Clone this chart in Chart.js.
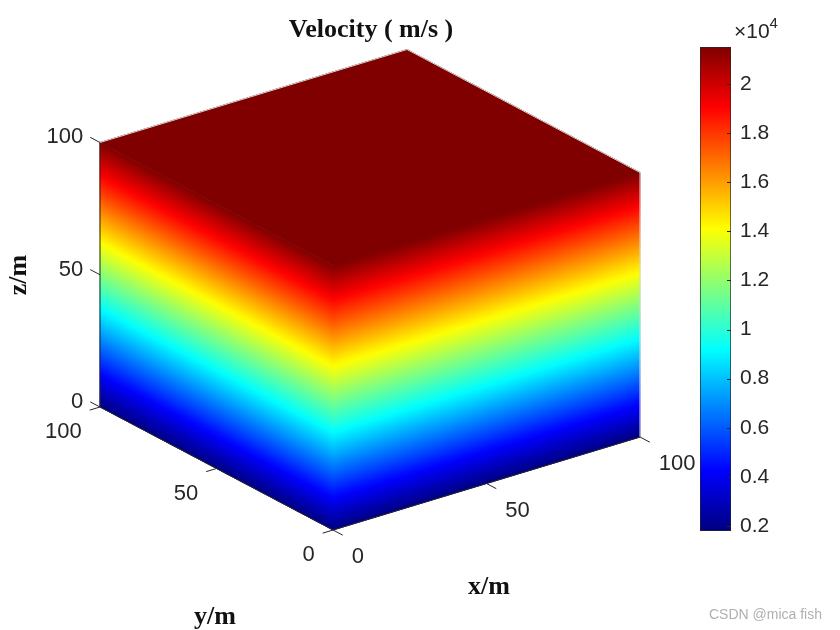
<!DOCTYPE html>
<html>
<head>
<meta charset="utf-8">
<script src="https://cdn.jsdelivr.net/npm/chart.js@4.4.1/dist/chart.umd.min.js"></script>
<style>
  html, body { margin: 0; padding: 0; background: #fff; }
  #wrap { position: relative; width: 840px; height: 630px; }
  #cubeChart { position: absolute; left: 0; top: 0; }
  #barChart { position: absolute; left: 690px; top: 0; }
</style>
</head>
<body>
<div id="wrap">
  <canvas id="cubeChart" width="840" height="630"></canvas>
  <canvas id="barChart" width="150" height="630"></canvas>
</div>
<script>
// axis limits and ticks (m)
const xLim = [0, 100];
const yLim = [0, 100];
const zLim = [0, 100];
const xTicks = [0, 50, 100];
const yTicks = [0, 50, 100];
const zTicks = [0, 50, 100];

// velocity (m/s)
const zLevels = [0, 20, 40, 60, 80, 100];
const velocity = [1850, 5800, 9750, 13700, 17650, 21500];

// colorbar, in units of 1e4 m/s
const colorLimits = [0.18, 2.15];
const colorTicks = [0.2, 0.4, 0.6, 0.8, 1, 1.2, 1.4, 1.6, 1.8, 2];

// 3D view: screen direction of one data unit along x, y and z
const view = {
    origin: [333, 530],
    ex: [3.07, -0.93],
    ey: [-2.33, -1.23],
    ez: [0, -2.645]
};

const TICK_FONT = '22px "Liberation Sans", Arial, sans-serif';
const LABEL_FONT = 'bold 26px "Liberation Serif", "Times New Roman", serif';
const TEXT_COLOR = '#262626';

function project(x, y, z) {
    return {
        x: view.origin[0] + x * view.ex[0] + y * view.ey[0] + z * view.ez[0],
        y: view.origin[1] + x * view.ex[1] + y * view.ey[1] + z * view.ez[1]
    };
}

function toPixel(chart, p) {
    return {
        x: chart.scales.x.getPixelForValue(p.x),
        y: chart.scales.y.getPixelForValue(p.y)
    };
}

// MATLAB jet
const jetStops = [
    [0, [0, 0, 0.5]],
    [0.125, [0, 0, 1]],
    [0.375, [0, 1, 1]],
    [0.625, [1, 1, 0]],
    [0.875, [1, 0, 0]],
    [1, [0.5, 0, 0]]
];

function jet(t) {
    t = Math.max(0, Math.min(1, t));
    for (let i = 1; i < jetStops.length; i++) {
        const [t1, c1] = jetStops[i];
        const [t0, c0] = jetStops[i - 1];
        if (t <= t1) {
            const f = (t - t0) / (t1 - t0);
            const c = c0.map((v, k) => Math.round(255 * (v + (c1[k] - v) * f)));
            return 'rgb(' + c.join(',') + ')';
        }
    }
    return 'rgb(128,0,0)';
}

function velocityAt(z) {
    for (let i = 1; i < zLevels.length; i++) {
        if (z <= zLevels[i]) {
            const f = (z - zLevels[i - 1]) / (zLevels[i] - zLevels[i - 1]);
            return velocity[i - 1] + (velocity[i] - velocity[i - 1]) * f;
        }
    }
    return velocity[velocity.length - 1];
}

function colorForZ(z) {
    const v = velocityAt(z) / 1e4;
    return jet((v - colorLimits[0]) / (colorLimits[1] - colorLimits[0]));
}

// vertical faces: gradient runs across the lines of constant z
function sideGradient(chart, from, to) {
    const ctx = chart.ctx;
    const a = toPixel(chart, project(from[0], from[1], zLim[0]));
    const b = toPixel(chart, project(from[0], from[1], zLim[1]));
    const c = toPixel(chart, project(to[0], to[1], zLim[0]));
    const len = Math.hypot(c.x - a.x, c.y - a.y);
    const n = { x: -(c.y - a.y) / len, y: (c.x - a.x) / len };
    const s = (b.x - a.x) * n.x + (b.y - a.y) * n.y;
    const g = ctx.createLinearGradient(a.x, a.y, a.x + s * n.x, a.y + s * n.y);
    const steps = 60;
    for (let i = 0; i <= steps; i++) {
        const t = i / steps;
        g.addColorStop(t, colorForZ(zLim[0] + t * (zLim[1] - zLim[0])));
    }
    return g;
}

const faces = [
    {
        corners: [[xLim[0], yLim[0], zLim[0]], [xLim[0], yLim[1], zLim[0]], [xLim[0], yLim[1], zLim[1]], [xLim[0], yLim[0], zLim[1]]],
        from: [xLim[0], yLim[0]], to: [xLim[0], yLim[1]]
    },
    {
        corners: [[xLim[0], yLim[0], zLim[0]], [xLim[1], yLim[0], zLim[0]], [xLim[1], yLim[0], zLim[1]], [xLim[0], yLim[0], zLim[1]]],
        from: [xLim[0], yLim[0]], to: [xLim[1], yLim[0]]
    },
    {
        corners: [[xLim[0], yLim[0], zLim[1]], [xLim[1], yLim[0], zLim[1]], [xLim[1], yLim[1], zLim[1]], [xLim[0], yLim[1], zLim[1]]],
        top: true
    }
];

function faceColor(face) {
    return function(context) {
        const chart = context.chart;
        if (!chart.chartArea) return 'rgba(0,0,0,0)';
        if (face.top) return colorForZ(zLim[1]);
        return sideGradient(chart, face.from, face.to);
    };
}

const cubeAxes = {
    id: 'cubeAxes',
    afterDatasetsDraw(chart) {
        const ctx = chart.ctx;
        const px = (x, y, z) => toPixel(chart, project(x, y, z));
        const seg = (a, b, color) => {
            ctx.strokeStyle = color;
            ctx.beginPath();
            ctx.moveTo(a.x, a.y);
            ctx.lineTo(b.x, b.y);
            ctx.stroke();
        };
        const tickLen = 4.2;

        ctx.save();
        ctx.lineWidth = 1;

        // back edges of the box
        seg(px(xLim[0], yLim[1], zLim[1]), px(xLim[1], yLim[1], zLim[1]), '#d4d4d4');
        seg(px(xLim[1], yLim[1], zLim[1]), px(xLim[1], yLim[0], zLim[1]), '#d4d4d4');
        seg(px(xLim[1], yLim[0], zLim[1]), px(xLim[1], yLim[0], zLim[0]), '#d4d4d4');

        // axis lines
        seg(px(xLim[0], yLim[1], zLim[0]), px(xLim[0], yLim[1], zLim[1]), TEXT_COLOR);
        seg(px(xLim[0], yLim[0], zLim[0]), px(xLim[0], yLim[1], zLim[0]), TEXT_COLOR);
        seg(px(xLim[0], yLim[0], zLim[0]), px(xLim[1], yLim[0], zLim[0]), TEXT_COLOR);

        ctx.fillStyle = TEXT_COLOR;
        ctx.font = TICK_FONT;
        ctx.textBaseline = 'middle';

        // z ticks
        ctx.textAlign = 'right';
        zTicks.forEach(z => {
            const a = px(xLim[0], yLim[1], z);
            const b = px(xLim[0], yLim[1] + tickLen, z);
            seg(a, b, TEXT_COLOR);
            ctx.fillText(String(z), b.x - 7, b.y);
        });

        // y ticks
        yTicks.forEach(y => {
            const a = px(xLim[0], y, zLim[0]);
            const b = px(xLim[0] - tickLen * 0.8, y, zLim[0]);
            seg(a, b, TEXT_COLOR);
            ctx.fillText(String(y), b.x - 8, b.y + 22);
        });

        // x ticks
        ctx.textAlign = 'left';
        xTicks.forEach(x => {
            const a = px(x, yLim[0], zLim[0]);
            const b = px(x, yLim[0] - tickLen, zLim[0]);
            seg(a, b, TEXT_COLOR);
            ctx.fillText(String(x), b.x + 9, b.y + 22);
        });

        // title and axis labels
        ctx.fillStyle = '#111';
        ctx.font = LABEL_FONT;
        ctx.textAlign = 'center';
        ctx.fillText('Velocity ( m/s )', 371, 30);
        ctx.fillText('x/m', 489, 587);
        ctx.fillText('y/m', 215, 617);
        ctx.save();
        ctx.translate(19, 275);
        ctx.rotate(-Math.PI / 2);
        ctx.fillText('z/m', 0, 0);
        ctx.restore();

        // watermark
        ctx.fillStyle = '#b0b0b0';
        ctx.font = '14px "Liberation Sans", Arial, sans-serif';
        ctx.textAlign = 'left';
        ctx.fillText('CSDN @mica fish', 709, 615);

        ctx.restore();
    }
};

new Chart(document.getElementById('cubeChart'), {
    type: 'scatter',
    data: {
        datasets: faces.map(face => ({
            data: face.corners.map(c => project(c[0], c[1], c[2])),
            showLine: true,
            fill: 'shape',
            tension: 0,
            pointRadius: 0,
            borderWidth: 1,
            backgroundColor: faceColor(face),
            borderColor: faceColor(face)
        }))
    },
    options: {
        responsive: false,
        animation: false,
        layout: { padding: 0 },
        plugins: {
            legend: { display: false },
            tooltip: { enabled: false }
        },
        scales: {
            x: { type: 'linear', min: 0, max: 840, display: false },
            y: { type: 'linear', min: 0, max: 630, reverse: true, display: false }
        }
    },
    plugins: [cubeAxes]
});

// colorbar
function barGradient(chart) {
    const y = chart.scales.y;
    const g = chart.ctx.createLinearGradient(0, y.getPixelForValue(colorLimits[0]), 0, y.getPixelForValue(colorLimits[1]));
    jetStops.forEach(s => {
        const c = s[1].map(v => Math.round(255 * v));
        g.addColorStop(s[0], 'rgb(' + c.join(',') + ')');
    });
    return g;
}

const colorbarExtras = {
    id: 'colorbarExtras',
    afterDatasetsDraw(chart) {
        const ctx = chart.ctx;
        const area = chart.chartArea;
        const y = chart.scales.y;
        ctx.save();
        ctx.strokeStyle = TEXT_COLOR;
        ctx.lineWidth = 1;
        colorTicks.forEach(v => {
            const py = Math.round(y.getPixelForValue(v)) + 0.5;
            ctx.beginPath();
            ctx.moveTo(area.right, py);
            ctx.lineTo(area.right - 4, py);
            ctx.stroke();
        });
        ctx.fillStyle = TEXT_COLOR;
        ctx.textBaseline = 'alphabetic';
        ctx.textAlign = 'left';
        ctx.font = '21px "Liberation Sans", Arial, sans-serif';
        const base = '\u00d710';
        ctx.fillText(base, 44, 38);
        const w = ctx.measureText(base).width;
        ctx.font = '15px "Liberation Sans", Arial, sans-serif';
        ctx.fillText('4', 44 + w, 28);
        ctx.restore();
    }
};

new Chart(document.getElementById('barChart'), {
    type: 'bar',
    data: {
        labels: ['velocity'],
        datasets: [{
            data: [colorLimits],
            backgroundColor: context => context.chart.chartArea ? barGradient(context.chart) : 'rgba(0,0,0,0)',
            borderColor: TEXT_COLOR,
            borderWidth: 1,
            borderSkipped: false,
            barPercentage: 1,
            categoryPercentage: 1
        }]
    },
    options: {
        responsive: false,
        animation: false,
        layout: { padding: { left: 10, top: 47, bottom: 99, right: 0 } },
        plugins: {
            legend: { display: false },
            tooltip: { enabled: false }
        },
        scales: {
            x: { display: false },
            y: {
                position: 'right',
                min: colorLimits[0],
                max: colorLimits[1],
                afterBuildTicks: axis => { axis.ticks = colorTicks.map(v => ({ value: v })); },
                afterFit: axis => { axis.width = 109; },
                grid: { drawOnChartArea: false, drawTicks: false },
                border: { display: false },
                ticks: {
                    padding: 9,
                    color: TEXT_COLOR,
                    font: { family: '"Liberation Sans", Arial, sans-serif', size: 21 },
                    callback: v => String(v)
                }
            }
        }
    },
    plugins: [colorbarExtras]
});
</script>
</body>
</html>
